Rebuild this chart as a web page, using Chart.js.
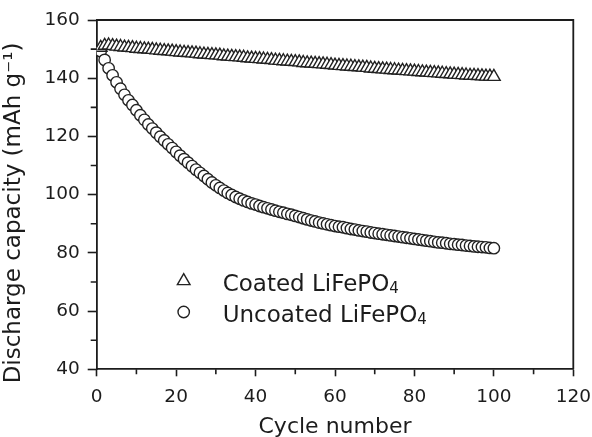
<!DOCTYPE html>
<html>
<head>
<meta charset="utf-8">
<title>Discharge capacity vs cycle number</title>
<script src="https://cdn.jsdelivr.net/npm/chart.js@4"></script>
<style>
  html, body { margin: 0; padding: 0; background: #fff; }
  #wrap { width: 592px; height: 437px; position: relative; }
</style>
</head>
<body>
<div id="wrap"><canvas id="capChart"></canvas></div>
<script>
// Discharge capacity (mAh/g) for cycles 1..100
const coated = [
  150.5, 151.2, 151.3, 151.1, 150.9, 150.8, 150.6, 150.5, 150.4, 150.2,
  150.1, 150.0, 149.9, 149.8, 149.6, 149.5, 149.4, 149.3, 149.2, 149.0,
  148.9, 148.8, 148.7, 148.6, 148.5, 148.3, 148.2, 148.1, 148.0, 147.9,
  147.8, 147.6, 147.5, 147.4, 147.3, 147.2, 147.1, 146.9, 146.8, 146.7,
  146.6, 146.5, 146.4, 146.3, 146.1, 146.0, 145.9, 145.8, 145.7, 145.6,
  145.5, 145.3, 145.2, 145.1, 145.0, 144.9, 144.8, 144.7, 144.6, 144.4,
  144.3, 144.2, 144.1, 144.0, 143.9, 143.8, 143.7, 143.6, 143.4, 143.3,
  143.2, 143.1, 143.0, 142.9, 142.8, 142.7, 142.6, 142.5, 142.4, 142.3,
  142.2, 142.1, 142.0, 141.9, 141.8, 141.7, 141.6, 141.5, 141.4, 141.3,
  141.2, 141.1, 141.0, 140.9, 140.9, 140.8, 140.7, 140.6, 140.6, 140.5
];
const uncoated = [
  149.3, 146.3, 143.4, 141.0, 138.6, 136.4, 134.3, 132.4, 130.8, 129.0,
  127.3, 125.7, 124.1, 122.7, 121.3, 119.9, 118.6, 117.3, 116.0, 114.7,
  113.4, 112.2, 111.0, 109.8, 108.6, 107.5, 106.4, 105.3, 104.2, 103.2,
  102.3, 101.4, 100.6, 99.9, 99.2, 98.6, 98.0, 97.5, 97.0, 96.6,
  96.1, 95.7, 95.3, 94.9, 94.5, 94.1, 93.8, 93.4, 93.1, 92.7,
  92.3, 91.9, 91.5, 91.1, 90.8, 90.4, 90.1, 89.8, 89.5, 89.2,
  89.0, 88.8, 88.5, 88.2, 88.0, 87.7, 87.5, 87.3, 87.0, 86.8,
  86.6, 86.4, 86.2, 86.0, 85.8, 85.6, 85.4, 85.2, 85.0, 84.8,
  84.6, 84.4, 84.2, 84.0, 83.8, 83.6, 83.5, 83.3, 83.1, 83.0,
  82.8, 82.7, 82.5, 82.4, 82.2, 82.1, 82.0, 81.9, 81.7, 81.6
];
const cycles = coated.map((_, i) => i + 1);
const seriesNames = ['Coated LiFePO', 'Uncoated LiFePO'];
const seriesSub = '4';
const xTicks = [0, 20, 40, 60, 80, 100, 120];
const yTicks = [40, 60, 80, 100, 120, 140, 160];

const ink = '#1c1c1c';
const font = 'DejaVu Sans';

// top and right frame lines plus the short minor ticks
const framePlugin = {
  id: 'frame',
  afterDraw(chart) {
    const { ctx, chartArea: a, scales } = chart;
    ctx.save();
    ctx.strokeStyle = ink;
    ctx.lineWidth = 1.8;
    ctx.beginPath();
    ctx.moveTo(a.left, a.top);
    ctx.lineTo(a.right, a.top);
    ctx.lineTo(a.right, a.bottom);
    ctx.stroke();

    ctx.lineWidth = 1.6;
    ctx.beginPath();
    for (let v = 10; v < 120; v += 20) {
      const px = scales.x.getPixelForValue(v);
      ctx.moveTo(px, a.bottom);
      ctx.lineTo(px, a.bottom + 5);
    }
    for (let v = 50; v < 160; v += 20) {
      const py = scales.y.getPixelForValue(v);
      ctx.moveTo(a.left, py);
      ctx.lineTo(a.left - 6, py);
    }
    ctx.stroke();
    ctx.restore();
  }
};

// legend with subscripted formula, drawn inside the plot area
const insideLegend = {
  id: 'insideLegend',
  afterDraw(chart) {
    const { ctx, chartArea: a } = chart;
    const rows = [chart.data.datasets[0], chart.data.datasets[1]];
    const mx = a.left + 87;
    const tx = a.left + 126;
    const ys = [a.top + 261, a.top + 292];
    ctx.save();
    rows.forEach((ds, i) => {
      ctx.strokeStyle = ds.borderColor;
      ctx.fillStyle = '#fff';
      ctx.lineWidth = ds.borderWidth;
      Chart.helpers.drawPoint(ctx, {
        pointStyle: ds.pointStyle,
        radius: ds.pointRadius,
        borderWidth: ds.borderWidth
      }, mx, ys[i]);

      ctx.fillStyle = ink;
      ctx.textBaseline = 'alphabetic';
      ctx.font = '23px "' + font + '"';
      const base = ys[i] + 10;
      ctx.fillText(seriesNames[i], tx, base);
      const w = ctx.measureText(seriesNames[i]).width;
      ctx.font = '15px "' + font + '"';
      ctx.fillText(seriesSub, tx + w, base + 2);
    });
    ctx.restore();
  }
};

new Chart(document.getElementById('capChart'), {
  type: 'scatter',
  data: {
    datasets: [
      {
        label: seriesNames[0] + '₄',
        data: cycles.map((c, i) => ({ x: c, y: coated[i] })),
        pointStyle: 'triangle',
        pointRadius: 7.3,
        borderWidth: 1.4,
        borderColor: '#222',
        backgroundColor: '#fff'
      },
      {
        label: seriesNames[1] + '₄',
        data: cycles.map((c, i) => ({ x: c, y: uncoated[i] })),
        pointStyle: 'circle',
        pointRadius: 5.7,
        borderWidth: 1.4,
        borderColor: '#222',
        backgroundColor: '#fff'
      }
    ]
  },
  options: {
    responsive: true,
    maintainAspectRatio: false,
    animation: false,
    layout: { autoPadding: false, padding: { top: 20, right: 18.7, left: 0, bottom: 0 } },
    plugins: {
      legend: { display: false },
      tooltip: { enabled: false }
    },
    scales: {
      x: {
        type: 'linear',
        min: 0,
        max: 120,
        // fixed axis band; end labels may overhang into the outer margin
        afterFit: s => { s.height = 67.7; s.paddingLeft = 0; s.paddingRight = 0; },
        afterBuildTicks: s => { s.ticks = xTicks.map(v => ({ value: v })); },
        border: { display: true, color: ink, width: 1.8 },
        grid: { drawOnChartArea: false, drawTicks: true, tickLength: 7, tickWidth: 1.6, tickColor: ink },
        ticks: { color: ink, font: { family: font, size: 18.5 }, padding: 10, maxRotation: 0 },
        title: {
          display: true,
          text: 'Cycle number',
          color: ink,
          font: { family: font, size: 22 },
          padding: { top: 0, bottom: -3 }
        }
      },
      y: {
        min: 40,
        max: 160,
        afterFit: s => { s.width = 96.7; s.paddingTop = 0; s.paddingBottom = 0; },
        afterBuildTicks: s => { s.ticks = yTicks.map(v => ({ value: v })); },
        border: { display: true, color: ink, width: 1.8 },
        grid: { drawOnChartArea: false, drawTicks: true, tickLength: 9, tickWidth: 1.6, tickColor: ink },
        ticks: { color: ink, font: { family: font, size: 18.5 }, padding: 8 },
        title: {
          display: true,
          // trailing spaces nudge the rotated title down along the axis
          text: 'Discharge capacity (mAh g⁻¹)     ',
          color: ink,
          font: { family: font, size: 23 },
          padding: { top: 0, bottom: 0 }
        }
      }
    }
  },
  plugins: [framePlugin, insideLegend]
});
</script>
</body>
</html>
